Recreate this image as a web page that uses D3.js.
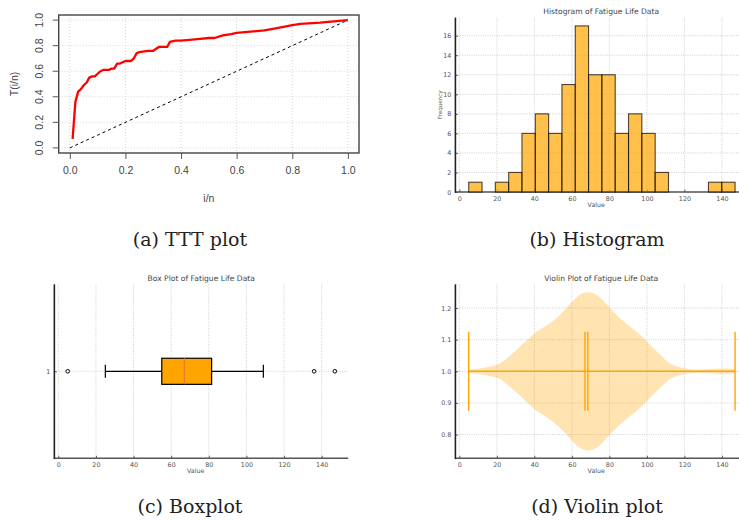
<!DOCTYPE html>
<html>
<head>
<meta charset="utf-8">
<script src="https://cdn.jsdelivr.net/npm/d3@7"></script>
<style>
  body { margin: 0; background: #fff; }
  svg { display: block; }
</style>
</head>
<body>
<script>
// (a) TTT plot values
var tttX = [0.01, 0.02, 0.03, 0.04, 0.05, 0.06, 0.07, 0.08, 0.09, 0.10, 0.11, 0.12, 0.14, 0.15, 0.16,
            0.17, 0.18, 0.19, 0.20, 0.22, 0.23, 0.24, 0.25, 0.28, 0.30, 0.32, 0.35, 0.36, 0.38, 0.40,
            0.45, 0.50, 0.52, 0.55, 0.58, 0.60, 0.65, 0.70, 0.75, 0.80, 0.83, 0.90, 0.95, 1.00];
var tttY = [0.07, 0.36, 0.44, 0.46, 0.49, 0.51, 0.55, 0.56, 0.56, 0.58, 0.60, 0.61, 0.61, 0.62, 0.62,
            0.66, 0.66, 0.67, 0.68, 0.68, 0.70, 0.74, 0.75, 0.76, 0.76, 0.79, 0.79, 0.83, 0.84, 0.84,
            0.85, 0.86, 0.86, 0.88, 0.89, 0.90, 0.91, 0.92, 0.94, 0.96, 0.97, 0.98, 0.99, 1.00];
var tttTicks = [0, 0.2, 0.4, 0.6, 0.8, 1.0];

// (b) histogram, 20 bins between min and max
var histMin = 5, histMax = 147;
var histCounts = [1, 0, 1, 2, 6, 8, 6, 11, 17, 12, 12, 6, 8, 6, 2, 0, 0, 0, 1, 1];
var valueTicks = [0, 20, 40, 60, 80, 100, 120, 140];
var freqTicks = [0, 2, 4, 6, 8, 10, 12, 14, 16];

// (c) box plot
var boxStats = {whiskLo: 25, q1: 55, median: 67, q3: 81.5, whiskHi: 109};
var outliers = [5, 136, 147];

// (d) violin: half width of density
var violinValues = [5, 14.6, 20.8, 26, 30.6, 35.9, 40.3, 45.6, 50.1, 55.4, 59.8, 64.3, 67.9, 71.4,
                    75.9, 80.3, 85.6, 91, 96.3, 101.6, 107, 111.4, 115.8, 121.2, 126.5, 133.6, 139, 147];
var violinHalf = [0.005, 0.013, 0.023, 0.044, 0.068, 0.097, 0.121, 0.142, 0.16, 0.189, 0.218, 0.242, 0.25, 0.247,
                  0.228, 0.2, 0.168, 0.142, 0.116, 0.084, 0.053, 0.028, 0.016, 0.008, 0.005, 0.007, 0.009, 0.008];
var violinLines = [5, 67, 68.5, 147];
var violinTicks = [0.8, 0.9, 1.0, 1.1, 1.2];

var captions = ["(a) TTT plot", "(b) Histogram", "(c) Boxplot", "(d) Violin plot"];

var svg = d3.select("body").append("svg")
    .attr("width", 739)
    .attr("height", 521);

var mplFont = "DejaVu Sans, sans-serif";
var txtCol = "#555";
var gridCol = "#c4c4c4";

function dotGridV(g, x, ticks, y0, y1) {
	g.selectAll(null).data(ticks).enter().append("line")
		.attr("x1", d => x(d)).attr("x2", d => x(d))
		.attr("y1", y0).attr("y2", y1)
		.attr("stroke", gridCol).attr("stroke-width", 0.8)
		.attr("stroke-dasharray", "1,1.3");
}
function dotGridH(g, y, ticks, x0, x1) {
	g.selectAll(null).data(ticks).enter().append("line")
		.attr("y1", d => y(d)).attr("y2", d => y(d))
		.attr("x1", x0).attr("x2", x1)
		.attr("stroke", gridCol).attr("stroke-width", 0.8)
		.attr("stroke-dasharray", "1,1.3");
}

// ---------- (a) TTT plot ----------
function drawTTT() {
	var g = svg.append("g");
	var box = {left: 58.7, right: 359, top: 15, bottom: 153};
	var x = d3.scaleLinear().domain([-0.04, 1.04]).range([box.left, box.right]);
	var y = d3.scaleLinear().domain([-0.04, 1.04]).range([box.bottom, box.top]);

	g.selectAll(null).data(tttTicks).enter().append("line")
		.attr("x1", d => x(d)).attr("x2", d => x(d))
		.attr("y1", box.top).attr("y2", box.bottom)
		.attr("stroke", "#d3d3d3").attr("stroke-dasharray", "1,2");
	g.selectAll(null).data(tttTicks).enter().append("line")
		.attr("y1", d => y(d)).attr("y2", d => y(d))
		.attr("x1", box.left).attr("x2", box.right)
		.attr("stroke", "#d3d3d3").attr("stroke-dasharray", "1,2");

	g.append("line")
		.attr("x1", x(0)).attr("y1", y(0)).attr("x2", x(1)).attr("y2", y(1))
		.attr("stroke", "#000").attr("stroke-width", 1).attr("stroke-dasharray", "3,3");

	var pts = tttX.map((v, i) => [v, tttY[i]]);
	g.append("path")
		.datum(pts)
		.attr("fill", "none")
		.attr("stroke", "#ff0000")
		.attr("stroke-width", 2.3)
		.attr("stroke-linejoin", "round")
		.attr("d", d3.line().x(d => x(d[0])).y(d => y(d[1])));

	g.append("rect")
		.attr("x", box.left).attr("y", box.top)
		.attr("width", box.right - box.left).attr("height", box.bottom - box.top)
		.attr("fill", "none").attr("stroke", "#444").attr("stroke-width", 1.4);

	var xAxis = g.append("g")
		.attr("transform", "translate(0," + box.bottom + ")")
		.call(d3.axisBottom(x).tickValues(tttTicks).tickFormat(d3.format(".1f")).tickSize(6).tickPadding(6));
	var yAxis = g.append("g")
		.attr("transform", "translate(" + box.left + ",0)")
		.call(d3.axisLeft(y).tickValues(tttTicks).tickFormat(d3.format(".1f")).tickSize(6).tickPadding(6));
	[xAxis, yAxis].forEach(a => {
		a.select(".domain").remove();
		a.selectAll("line").attr("stroke", "#555");
		a.selectAll("text").attr("fill", "#444").style("font", "10.5px 'Liberation Sans', Arial, sans-serif");
	});
	yAxis.selectAll("text")
		.attr("text-anchor", "middle")
		.attr("x", null).attr("dy", null)
		.attr("transform", d => "translate(" + (-16) + "," + y(d) + ") rotate(-90)")
		.attr("y", 0);
	yAxis.selectAll(".tick").attr("transform", null);
	yAxis.selectAll(".tick line").attr("transform", d => "translate(0," + y(d) + ")");
	xAxis.selectAll("text").attr("dy", "0.9em");

	g.append("text")
		.attr("x", (box.left + box.right) / 2).attr("y", 202)
		.attr("text-anchor", "middle").attr("fill", "#444")
		.style("font", "10.5px 'Liberation Sans', Arial, sans-serif")
		.text("i/n");
	g.append("text")
		.attr("transform", "translate(18," + ((box.top + box.bottom) / 2) + ") rotate(-90)")
		.attr("text-anchor", "middle").attr("fill", "#444")
		.style("font", "10.5px 'Liberation Sans', Arial, sans-serif")
		.text("T(i/n)");
}

// shared matplotlib-like frame
function mplFrame(g, x, y, area, xTicks, yTicks, yFmt, title) {
	dotGridV(g, x, xTicks, area.top, area.bottom);
	dotGridH(g, y, yTicks, area.left, area.right);

	var xAxis = g.append("g")
		.attr("transform", "translate(0," + area.bottom + ")")
		.call(d3.axisBottom(x).tickValues(xTicks).tickSize(-2.5).tickPadding(4));
	var yAxis = g.append("g")
		.attr("transform", "translate(" + area.left + ",0)")
		.call(d3.axisLeft(y).tickValues(yTicks).tickFormat(yFmt).tickSize(-2.5).tickPadding(4));
	[xAxis, yAxis].forEach(a => {
		a.select(".domain").remove();
		a.selectAll("line").attr("stroke", "#333").attr("stroke-width", 0.8);
		a.selectAll("text").attr("fill", txtCol).style("font", "6.4px " + mplFont);
	});

	g.append("line")
		.attr("x1", area.left).attr("x2", area.right)
		.attr("y1", area.bottom).attr("y2", area.bottom)
		.attr("stroke", "#555").attr("stroke-width", 1.6);
	g.append("line")
		.attr("x1", area.left).attr("x2", area.left)
		.attr("y1", area.top).attr("y2", area.bottom + 0.8)
		.attr("stroke", "#222").attr("stroke-width", 1.6);

	g.append("text")
		.attr("x", (area.left + Math.min(area.right, 739) + 0) / 2 + (area.right > 739 ? 4 : 0))
		.attr("y", area.top - 3.5)
		.attr("text-anchor", "middle").attr("fill", "#444")
		.style("font", "7.6px " + mplFont)
		.text(title);
	g.append("text")
		.attr("x", x(73)).attr("y", area.bottom + 15)
		.attr("text-anchor", "middle").attr("fill", txtCol)
		.style("font", "6.3px " + mplFont)
		.text("Value");
}

// ---------- (b) histogram ----------
function drawHist() {
	var g = svg.append("g");
	var area = {left: 455.4, right: 748.4, top: 17.6, bottom: 192};
	var x = d3.scaleLinear().domain([-2.1, 154.1]).range([area.left, area.right]);
	var y = d3.scaleLinear().domain([0, 17.85]).range([area.bottom, area.top]);
	var bw = (histMax - histMin) / histCounts.length;

	mplFrame(g, x, y, area, valueTicks, freqTicks, d3.format("d"), "Histogram of Fatigue Life Data");

	g.selectAll(".bar")
		.data(histCounts)
	.enter().append("rect")
		.attr("class", "bar")
		.attr("x", (d, i) => x(histMin + i * bw))
		.attr("width", x(histMin + bw) - x(histMin))
		.attr("y", d => y(d))
		.attr("height", d => area.bottom - y(d))
		.attr("fill", "orange").attr("fill-opacity", 0.7)
		.attr("stroke", "#000").attr("stroke-opacity", 0.7).attr("stroke-width", 1.1);

	g.append("text")
		.attr("transform", "translate(442," + ((area.top + area.bottom) / 2) + ") rotate(-90)")
		.attr("text-anchor", "middle").attr("fill", txtCol)
		.style("font", "5.6px " + mplFont)
		.text("Frequency");
}

// ---------- (c) box plot ----------
function drawBox() {
	var g = svg.append("g");
	var area = {left: 54.35, right: 348.2, top: 284.3, bottom: 458.3};
	var x = d3.scaleLinear().domain([-2.1, 154.1]).range([area.left, area.right]);
	var y = d3.scaleLinear().domain([0.5, 1.5]).range([area.bottom, area.top]);

	mplFrame(g, x, y, area, valueTicks, [1], d3.format("d"), "Box Plot of Fatigue Life Data");

	var s = boxStats;
	g.append("line").attr("x1", x(s.whiskLo)).attr("x2", x(s.q1)).attr("y1", y(1)).attr("y2", y(1))
		.attr("stroke", "#000").attr("stroke-width", 1.2);
	g.append("line").attr("x1", x(s.q3)).attr("x2", x(s.whiskHi)).attr("y1", y(1)).attr("y2", y(1))
		.attr("stroke", "#000").attr("stroke-width", 1.2);
	[s.whiskLo, s.whiskHi].forEach(v => {
		g.append("line").attr("x1", x(v)).attr("x2", x(v))
			.attr("y1", y(1 - 0.0375)).attr("y2", y(1 + 0.0375))
			.attr("stroke", "#000").attr("stroke-width", 1.2);
	});
	g.append("rect")
		.attr("x", x(s.q1)).attr("width", x(s.q3) - x(s.q1))
		.attr("y", y(1 + 0.075)).attr("height", y(1 - 0.075) - y(1 + 0.075))
		.attr("fill", "#ffa500").attr("stroke", "#000").attr("stroke-width", 1.2);
	g.append("line").attr("x1", x(s.median)).attr("x2", x(s.median))
		.attr("y1", y(1 + 0.075)).attr("y2", y(1 - 0.075))
		.attr("stroke", "#f5732a").attr("stroke-width", 1.2);
	g.selectAll(".flier").data(outliers).enter().append("circle")
		.attr("class", "flier")
		.attr("cx", d => x(d)).attr("cy", y(1)).attr("r", 1.8)
		.attr("fill", "#fff").attr("stroke", "#000").attr("stroke-width", 1);
}

// ---------- (d) violin plot ----------
function drawViolin() {
	var g = svg.append("g");
	var area = {left: 455.4, right: 748.4, top: 284.3, bottom: 458.3};
	var x = d3.scaleLinear().domain([-2.1, 154.1]).range([area.left, area.right]);
	var y = d3.scaleLinear().domain([0.725, 1.275]).range([area.bottom, area.top]);

	mplFrame(g, x, y, area, valueTicks, violinTicks, d3.format(".1f"), "Violin Plot of Fatigue Life Data");

	var pts = violinValues.map((v, i) => ({v: v, w: violinHalf[i]}));
	g.append("path")
		.datum(pts)
		.attr("fill", "#ffa500").attr("fill-opacity", 0.3)
		.attr("d", d3.area().curve(d3.curveMonotoneX)
			.x(d => x(d.v)).y0(d => y(1 - d.w)).y1(d => y(1 + d.w)));

	g.append("line")
		.attr("x1", x(violinLines[0])).attr("x2", x(violinLines[violinLines.length - 1]))
		.attr("y1", y(1)).attr("y2", y(1))
		.attr("stroke", "#ffa500").attr("stroke-width", 1.4);
	g.selectAll(".vl").data(violinLines).enter().append("line")
		.attr("class", "vl")
		.attr("x1", d => x(d)).attr("x2", d => x(d))
		.attr("y1", y(0.875)).attr("y2", y(1.125))
		.attr("stroke", "#ffa500").attr("stroke-width", 1.4);
}

drawTTT();
drawHist();
drawBox();
drawViolin();

// sub-figure captions
var capPos = [[190, 246], [597, 246], [190, 513], [597, 513]];
svg.selectAll(".caption").data(captions).enter().append("text")
	.attr("class", "caption")
	.attr("x", (d, i) => capPos[i][0]).attr("y", (d, i) => capPos[i][1])
	.attr("text-anchor", "middle").attr("fill", "#222")
	.style("font", "19px 'DejaVu Serif', serif")
	.text(d => d);
</script>
</body>
</html>
